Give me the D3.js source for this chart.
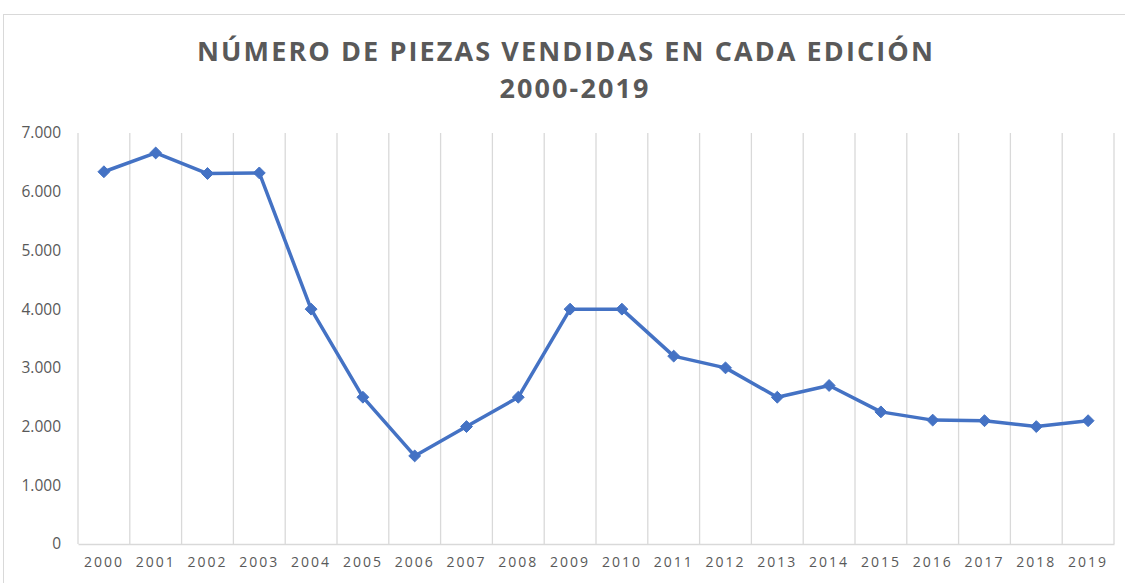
<!DOCTYPE html>
<html>
<head>
<meta charset="utf-8">
<script src="https://cdn.jsdelivr.net/npm/d3@7"></script>
<style>
  body { margin: 0; background: #fff; }
  text { font-family: "Open Sans", sans-serif; }
</style>
</head>
<body>
<svg id="chart"></svg>
<script>
    // data
    var years = ["2000","2001","2002","2003","2004","2005","2006","2007","2008","2009",
                 "2010","2011","2012","2013","2014","2015","2016","2017","2018","2019"];
    var piezas = [6340, 6660, 6310, 6320, 4000, 2500, 1500, 2000, 2500, 4000,
                  4000, 3200, 3000, 2500, 2700, 2250, 2110, 2100, 2000, 2100];
    var yTicks = [0, 1000, 2000, 3000, 4000, 5000, 6000, 7000];
    var titleLines = ["NÚMERO DE PIEZAS VENDIDAS EN CADA EDICIÓN", "2000-2019"];

    var W = 1125, H = 583;
    var margin = {top: 133, right: 11, bottom: 39, left: 78},
    width = W - margin.left - margin.right,
    height = H - margin.top - margin.bottom;

    var svg = d3.select("#chart")
      .attr("width", W)
      .attr("height", H);

    // chart frame
    svg.append("rect")
      .attr("x", 3.5).attr("y", 14.5)
      .attr("width", W + 20).attr("height", H + 20)
      .attr("fill", "none")
      .attr("stroke", "#d9d9d9");

    // title
    svg.append("g").selectAll("text")
      .data(titleLines)
      .enter().append("text")
      .attr("x", function(d, i) { return i === 0 ? 566 : 575; })
      .attr("y", function(d, i) { return 61 + i * 37; })
      .attr("text-anchor", "middle")
      .attr("font-size", 27)
      .attr("font-weight", "bold")
      .attr("letter-spacing", 2.1)
      .attr("fill", "#595959")
      .text(function(d) { return d; });

    var g = svg.append("g")
      .attr("transform", "translate(" + margin.left + "," + margin.top + ")");

    // set the ranges
    var x = d3.scaleBand().domain(years).range([0, width]);
    var y = d3.scaleLinear().domain([0, 7000]).range([height, 0]);

    // vertical gridlines at category boundaries
    var bounds = years.map(function(d) { return x(d); }).concat([width]);
    g.append("g").selectAll("line")
      .data(bounds)
      .enter().append("line")
      .attr("x1", function(d) { return d; })
      .attr("x2", function(d) { return d; })
      .attr("y1", 0).attr("y2", height)
      .attr("stroke", "#d9d9d9")
      .attr("stroke-width", 1.3);

    // X axis
    var fmt = function(v) { return d3.format(",")(v).replace(/,/g, "."); };
    var xAxis = g.append("g")
      .attr("transform", "translate(0," + height + ")")
      .call(d3.axisBottom(x).tickSize(0).tickPadding(13));
    xAxis.select(".domain").attr("stroke", "#d9d9d9").attr("stroke-width", 1.5);
    xAxis.selectAll("text")
      .attr("font-family", "'Open Sans', sans-serif")
      .attr("font-size", 14)
      .attr("letter-spacing", 2)
      .attr("fill", "#595959");

    // Y axis
    var yAxis = g.append("g")
      .call(d3.axisLeft(y).tickValues(yTicks).tickSize(0).tickPadding(17).tickFormat(fmt));
    yAxis.select(".domain").remove();
    yAxis.selectAll("text")
      .attr("font-family", "'Open Sans', sans-serif")
      .attr("font-size", 15.5)
      .attr("fill", "#595959");

    // the line
    var valueline = d3.line()
      .x(function(d, i) { return x(years[i]) + x.bandwidth() / 2; })
      .y(function(d) { return y(d); });

    g.append("path")
      .datum(piezas)
      .attr("fill", "none")
      .attr("stroke", "#4472c4")
      .attr("stroke-width", 3.5)
      .attr("stroke-linejoin", "round")
      .attr("d", valueline);

    // diamond markers
    g.append("g").selectAll("path")
      .data(piezas)
      .enter().append("path")
      .attr("transform", function(d, i) {
        return "translate(" + (x(years[i]) + x.bandwidth() / 2) + "," + y(d) + ")";
      })
      .attr("d", d3.symbol().type(d3.symbolDiamond2).size(90))
      .attr("fill", "#4472c4")
      .attr("stroke", "#4472c4")
      .attr("stroke-width", 1);
</script>
</body>
</html>
